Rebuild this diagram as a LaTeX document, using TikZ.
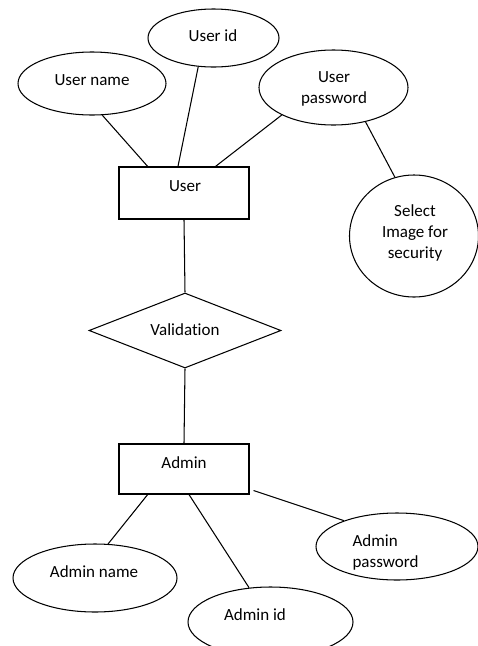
\documentclass[tikz,border=0pt]{standalone}
\usepackage{fontspec}
\setmainfont{Carlito}[Ligatures=NoCommon]
\usetikzlibrary{shapes.geometric,calc}
\begin{document}
\begin{tikzpicture}[x=1pt, y=-1pt, line width=1.05pt,
  attr/.style={draw, ellipse, inner sep=0pt},
  entity/.style={draw, rectangle, inner sep=0pt, minimum width=130pt},
  relation/.style={draw, diamond, inner sep=0pt},
  lbl/.style={font=\fontsize{17}{21}\selectfont, align=center, inner sep=0pt}]
\useasboundingbox (0,0) rectangle (478,646);

% user side
\node[attr, minimum width=131pt, minimum height=58pt] (uid) at (213.5,38) {};
\node[attr, minimum width=148pt, minimum height=63pt] (uname) at (92,83.5) {};
\node[attr, minimum width=149pt, minimum height=75pt] (upass) at (333.5,87.5) {};
\node[attr, minimum width=129pt, minimum height=122pt] (sel) at (414,236) {};
\node[entity, minimum height=52pt] (user) at (184,193) {};

\node[lbl] (uidT) at (213,36) {User id};
\node[lbl] (unameT) at (92,80) {User name};
\node[lbl] (upassT) at (334,89) {User\\password};
\node[lbl] (selT) at (415,233) {Select\\Image for\\security};
\node[lbl] (userT) at (185,186) {User};

% relationship
\node[relation, minimum width=192pt, minimum height=75pt] (val) at (185,330.5) {};
\node[lbl] (valT) at (185,330) {Validation};

% admin side
\node[entity, minimum height=50pt] (admin) at (184,469) {};
\node[attr, minimum width=164pt, minimum height=68pt] (aname) at (95,578) {};
\node[attr, minimum width=165pt, minimum height=70pt] (aid) at (270.5,622) {};
\node[attr, minimum width=162pt, minimum height=67pt] (apass) at (397,546.5) {};

\node[lbl] (adminT) at (184,463) {Admin};
\node[lbl] (anameT) at (94,572) {Admin name};
\node[lbl] (aidT) at (255,615) {Admin id};
\node[lbl, align=left] (apassT) at (385.5,552) {Admin\\password};

% connectors
\draw (uname.-72) -- ($(user.north west)!0.223!(user.north east)$);
\draw (uid.-118) -- ($(user.north west)!0.454!(user.north east)$);
\draw (upass.-152) -- ($(user.north west)!0.74!(user.north east)$);
\draw (upass.-47) -- (sel.108);
\draw (user.south) -- (val.north);
\draw (val.south) -- (admin.north);
\draw (aname.69) -- ($(admin.south west)!0.223!(admin.south east)$);
\draw (aid.122) -- ($(admin.south west)!0.538!(admin.south east)$);
\draw (apass.154) -- ($(admin.south east)+(4,-4)$);
\end{tikzpicture}
\end{document}
